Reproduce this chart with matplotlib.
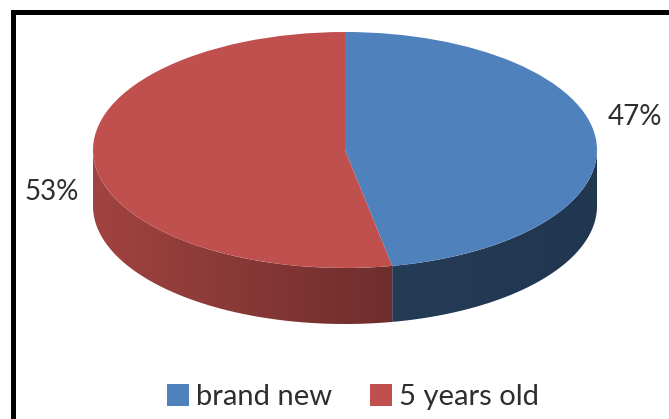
import numpy as np
import matplotlib
matplotlib.use("Agg")
import matplotlib.pyplot as plt
from matplotlib.patches import Polygon, Patch
from matplotlib.lines import Line2D
from matplotlib.colors import to_rgb

# data
categories = ["brand new", "5 years old"]
shares = [47, 53]
colors = ["#4F81BD", "#C0504D"]

# side wall brightness (left end, right end) for each slice
side_shade = [(0.46, 0.42), (0.84, 0.57)]

W, H = 669, 419
plt.rcParams['font.family'] = ['Lato', 'DejaVu Sans']
fig = plt.figure(figsize=(W / 100, H / 100), dpi=100)

# top face of the pie: centre and radii in pixels, depth of the side wall
cx, cy, rx, ry = 345, 150, 252, 118
depth = 56 / ry
ax = fig.add_axes([(cx - rx) / W, 1 - (cy + ry) / H, 2 * rx / W, 2 * ry / H])
ax.pie(shares, colors=colors, startangle=90, counterclock=False, radius=1,
       wedgeprops=dict(linewidth=0), frame=False)
ax.set_aspect('auto')
ax.axis('off')

# side wall: only the front half (-180..0 deg) is visible,
# each piece filled with a horizontal gradient clipped to its outline
total = sum(shares)
start = 90.0
for share, col, (fl, fr) in zip(shares, colors, side_shade):
    end = start - 360.0 * share / total
    lo, hi = max(end, -180.0), min(start, 0.0)
    if hi > lo:
        phis = np.radians(np.linspace(lo, hi, 200))
        top = np.column_stack([np.cos(phis), np.sin(phis)])
        bottom = np.column_stack([np.cos(phis), np.sin(phis) - depth])[::-1]
        outline = Polygon(np.vstack([top, bottom]), closed=True, facecolor='none',
                          edgecolor='none', clip_on=False)
        ax.add_patch(outline)
        x0, x1 = np.cos(phis).min(), np.cos(phis).max()
        ramp = np.linspace(fl, fr, 256)
        grad = np.clip(np.array(to_rgb(col))[None, None, :] * ramp[None, :, None], 0, 1)
        im = ax.imshow(grad, extent=(x0, x1, -1 - depth, 0.05), aspect='auto',
                       interpolation='bilinear', zorder=0)
        im.set_clip_box(fig.bbox)
        im.set_clip_path(outline)
    start = end
ax.set_xlim(-1, 1)
ax.set_ylim(-1, 1)

# percentage labels
label_pos = [(1.15, 0.28), (-1.163, -0.356)]
for v, (lx, ly) in zip(shares, label_pos):
    ax.text(lx, ly, f"{v}%", ha='center', va='center', fontsize=20,
            color='#2e2e2e', clip_on=False)

# legend
handles = [Patch(facecolor=c, edgecolor='none') for c in colors]
fig.legend(handles, categories, loc='center', bbox_to_anchor=(353 / W, 1 - 397 / H),
           ncol=2, frameon=False, fontsize=21, handlelength=0.75, handleheight=0.75,
           handletextpad=0.25, columnspacing=1.3, labelcolor='#2e2e2e')

# outer frame (top and left edges)
fig.add_artist(Line2D([12.5 / W, 12.5 / W, 1], [0, 1 - 12.5 / H, 1 - 12.5 / H],
                      color='black', lw=3.6, solid_joinstyle='miter'))

fig.savefig('out.png', dpi=100)
